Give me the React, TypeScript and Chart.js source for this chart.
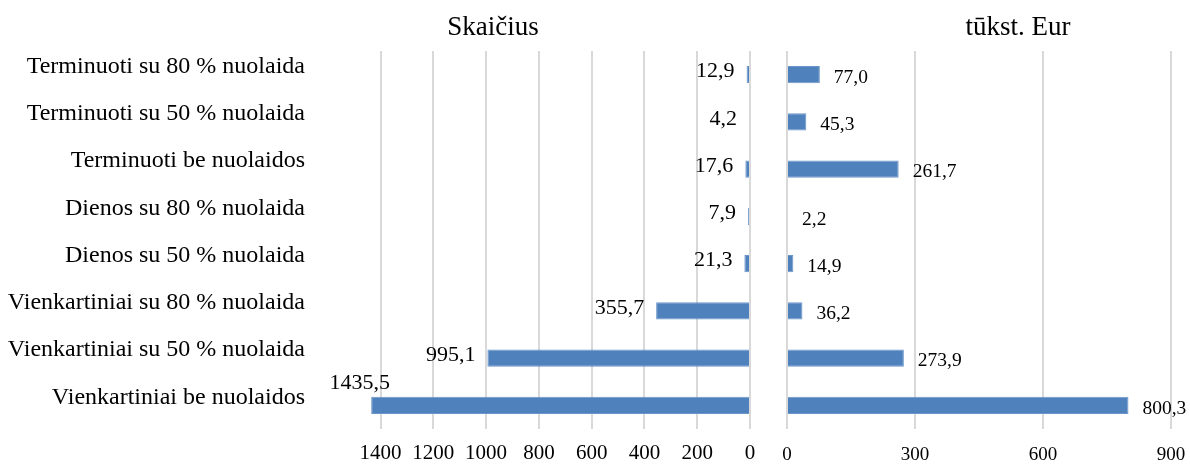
import React, { useEffect, useRef } from "react";
import { Chart, registerables } from "chart.js";
Chart.register(...registerables);

const categories = [
  "Terminuoti su 80 % nuolaida",
  "Terminuoti su 50 % nuolaida",
  "Terminuoti be nuolaidos",
  "Dienos su 80 % nuolaida",
  "Dienos su 50 % nuolaida",
  "Vienkartiniai su 80 % nuolaida",
  "Vienkartiniai su 50 % nuolaida",
  "Vienkartiniai be nuolaidos",
];
const countValues = [12.9, 4.2, 17.6, 7.9, 21.3, 355.7, 995.1, 1435.5];
const amountValues = [77.0, 45.3, 261.7, 2.2, 14.9, 36.2, 273.9, 800.3];
const countTicks = [0, 200, 400, 600, 800, 1000, 1200, 1400];
const amountTicks = [0, 300, 600, 900];
const leftTitle = "Skaičius";
const rightTitle = "tūkst. Eur";

const FONT = "'Liberation Serif', 'Times New Roman', serif";
const BAR = "#4F81BD";
const BAR_EDGE = "#6A95C9";
const GRID = "#D9D9D9";

const fmt = (v: number) => v.toFixed(1).replace(".", ",");

const zeroPad = (s: any) => {
  s.paddingTop = 0;
  s.paddingBottom = 0;
  s.paddingLeft = 0;
  s.paddingRight = 0;
};

const titlePlugin = {
  id: "panelTitle",
  afterDraw(chart: any, _args: any, opts: any) {
    const ctx = chart.ctx;
    ctx.save();
    ctx.font = `27px ${FONT}`;
    ctx.fillStyle = "#000";
    ctx.textAlign = "center";
    ctx.textBaseline = "middle";
    ctx.fillText(opts.text, opts.x, opts.y);
    ctx.restore();
  },
};

const labelPlugin = {
  id: "barLabels",
  afterDatasetsDraw(chart: any, _args: any, opts: any) {
    const ctx = chart.ctx;
    const meta = chart.getDatasetMeta(0);
    const data = chart.data.datasets[0].data as number[];
    ctx.save();
    ctx.font = `${opts.size}px ${FONT}`;
    ctx.fillStyle = "#000";
    ctx.textBaseline = "middle";
    meta.data.forEach((bar: any, i: number) => {
      const text = fmt(data[i]);
      const w = ctx.measureText(text).width;
      if (opts.side === "left") {
        let x = bar.x - 12;
        let y = bar.y - 3;
        if (x - w < chart.chartArea.left - 10) {
          x = chart.chartArea.left + 20;
          y = bar.y - 22;
        }
        ctx.textAlign = "right";
        ctx.fillText(text, x, y);
      } else {
        ctx.textAlign = "left";
        ctx.fillText(text, bar.x + 14, bar.y + 3);
      }
    });
    ctx.restore();
  },
};

export default function App() {
  const leftRef = useRef<HTMLCanvasElement>(null);
  const rightRef = useRef<HTMLCanvasElement>(null);

  useEffect(() => {
    const left = new Chart(leftRef.current!, {
      type: "bar",
      data: {
        labels: categories,
        datasets: [
          {
            data: countValues,
            backgroundColor: BAR,
            borderColor: BAR_EDGE,
            borderWidth: 1,
            barPercentage: 0.45,
            categoryPercentage: 0.8,
          },
        ],
      },
      options: {
        indexAxis: "y",
        responsive: false,
        animation: false,
        layout: { padding: { top: 51, right: 10, left: 0, bottom: 0 } },
        plugins: {
          legend: { display: false },
          tooltip: { enabled: false },
          panelTitle: { text: leftTitle, x: 493, y: 28 },
          barLabels: { side: "left", size: 22 },
        } as any,
        scales: {
          x: {
            type: "linear",
            reverse: true,
            min: 0,
            max: 1440,
            afterBuildTicks: (s: any) => {
              s.ticks = countTicks.map((v) => ({ value: v }));
            },
            afterFit: (s: any) => {
              s.height = 35;
              zeroPad(s);
            },
            grid: { color: GRID, lineWidth: 2, drawTicks: false },
            border: { display: false },
            ticks: {
              font: { family: FONT, size: 21 },
              color: "#000",
              padding: 12,
              maxRotation: 0,
              autoSkip: false,
              callback: (v: any) => String(v),
            },
          },
          y: {
            grid: { display: false, drawTicks: false },
            border: { display: false },
            afterFit: (s: any) => {
              s.width = 370;
              zeroPad(s);
            },
            ticks: {
              font: { family: FONT, size: 24 },
              color: "#000",
              padding: 65,
              labelOffset: -8,
              autoSkip: false,
            },
          },
        },
      } as any,
      plugins: [titlePlugin, labelPlugin],
    });

    const right = new Chart(rightRef.current!, {
      type: "bar",
      data: {
        labels: categories,
        datasets: [
          {
            data: amountValues,
            backgroundColor: BAR,
            borderColor: BAR_EDGE,
            borderWidth: 1,
            barPercentage: 0.45,
            categoryPercentage: 0.8,
            minBarLength: 1,
          },
        ],
      },
      options: {
        indexAxis: "y",
        responsive: false,
        animation: false,
        layout: { padding: { top: 51, right: 19, left: 17, bottom: 0 } },
        plugins: {
          legend: { display: false },
          tooltip: { enabled: false },
          panelTitle: { text: rightTitle, x: 248, y: 28 },
          barLabels: { side: "right", size: 19.5 },
        } as any,
        scales: {
          x: {
            type: "linear",
            min: 0,
            max: 900,
            afterBuildTicks: (s: any) => {
              s.ticks = amountTicks.map((v) => ({ value: v }));
            },
            afterFit: (s: any) => {
              s.height = 35;
              zeroPad(s);
            },
            grid: { color: GRID, lineWidth: 2, drawTicks: false },
            border: { display: false },
            ticks: {
              font: { family: FONT, size: 19 },
              color: "#000",
              padding: 15,
              maxRotation: 0,
              autoSkip: false,
              callback: (v: any) => String(v),
            },
          },
          y: {
            display: false,
          },
        },
      } as any,
      plugins: [titlePlugin, labelPlugin],
    });

    return () => {
      left.destroy();
      right.destroy();
    };
  }, []);

  return (
    <div
      style={{
        position: "absolute",
        left: 0,
        top: 0,
        width: 1190,
        height: 464,
        background: "#fff",
        overflow: "hidden",
      }}
    >
      <canvas
        ref={leftRef}
        width={760}
        height={464}
        style={{ position: "absolute", left: 0, top: 0 }}
      />
      <canvas
        ref={rightRef}
        width={420}
        height={464}
        style={{ position: "absolute", left: 770, top: 0 }}
      />
    </div>
  );
}
